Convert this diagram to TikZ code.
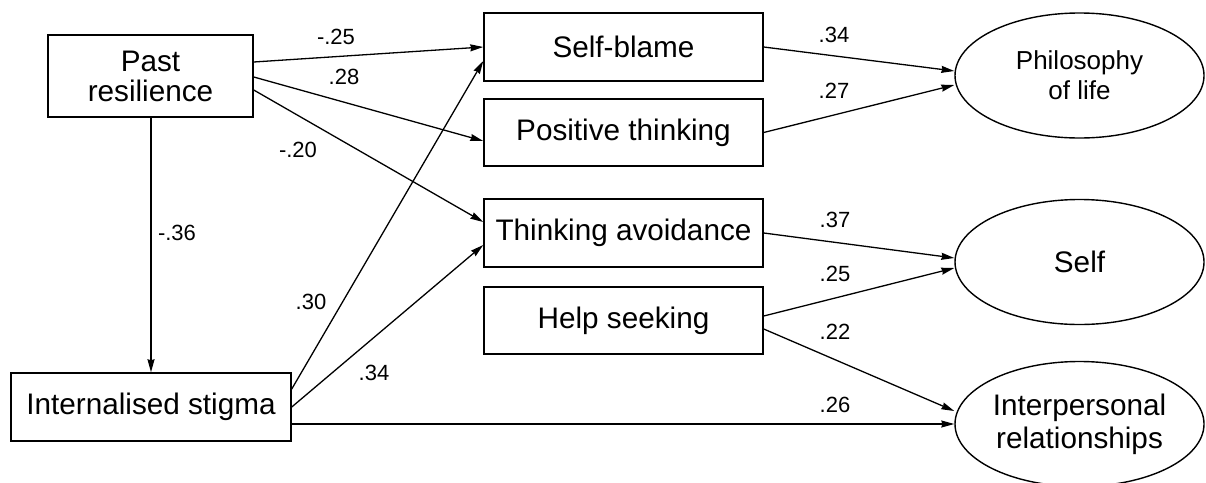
\documentclass[tikz,border=0pt]{standalone}
\usepackage{fontspec}
\setmainfont{Liberation Sans}
\usetikzlibrary{arrows.meta,shapes.geometric}
\begin{document}
\begin{tikzpicture}[x=1pt,y=-1pt,
  box/.style={draw, line width=1.5pt, rectangle, inner sep=0pt, align=center,
    font=\fontsize{29.7}{30}\selectfont},
  latent/.style={draw, line width=1.4pt, ellipse, inner sep=0pt,
    minimum width=249pt, minimum height=125pt, align=center,
    font=\fontsize{29.7}{33}\selectfont},
  path/.style={line width=1.3pt, -{Stealth[length=13pt,width=7pt,inset=1pt]}},
  coef/.style={inner sep=0pt, font=\fontsize{22}{22}\selectfont}
]
\useasboundingbox (0,0) rectangle (1206,482);

% predictors
\node[box, minimum width=205pt, minimum height=82pt] (past) at (150.5,76) {Past\\resilience};
\node[box, minimum width=280pt, minimum height=68pt] (stigma) at (151,407) {Internalised stigma};

% coping strategies
\node[box, minimum width=279pt, minimum height=68pt] (blame) at (623.5,47) {Self-blame};
\node[box, minimum width=279pt, minimum height=67pt] (positive) at (623.5,132.5) {Positive thinking};
\node[box, minimum width=279pt, minimum height=68pt] (avoid) at (623.5,233) {Thinking avoidance};
\node[box, minimum width=279pt, minimum height=67pt] (help) at (623.5,320.5) {Help seeking};

% outcome factors
\node[latent, font=\fontsize{26}{30}\selectfont] (philo) at (1079.5,75.5) {Philosophy\\of life};
\node[latent] (self) at (1079.5,262) {Self};
\node[latent] (inter) at (1079.5,424) {Interpersonal\\relationships};

% paths from past resilience
\draw[path] ([yshift=14pt]past.east) -- (blame.west);
\draw[path] ([yshift=-1pt]past.east) -- ([yshift=-8.5pt]positive.west);
\draw[path] ([yshift=-14pt]past.east) -- ([yshift=11pt]avoid.west);
\draw[path] ([xshift=0.5pt]past.south) -- ([xshift=0pt]stigma.north);

% paths from internalised stigma
\draw[path] ([yshift=18pt]stigma.east) -- ([yshift=-14pt]blame.west);
\draw[path] (stigma.east) -- ([yshift=-12pt]avoid.west);
\draw[path] ([yshift=-17pt]stigma.east) -- (inter.west);

% paths to the outcome factors
\draw[path] (blame.east) -- ([yshift=4.5pt]philo.west);
\draw[path] (positive.east) -- ([yshift=-9.5pt]philo.west);
\draw[path] (avoid.east) -- ([yshift=4pt]self.west);
\draw[path] ([yshift=4.5pt]help.east) -- ([yshift=-6pt]self.west);
\draw[path] ([yshift=-8.5pt]help.east) -- ([yshift=13pt]inter.west);

% path coefficients
\node[coef] (c1) at (336,37) {-.25};
\node[coef] (c2) at (344,77) {.28};
\node[coef] (c3) at (298,150) {-.20};
\node[coef] (c4) at (177,233) {-.36};
\node[coef] (c5) at (311,302) {.30};
\node[coef] (c6) at (374,373) {.34};
\node[coef] (c7) at (834,35) {.34};
\node[coef] (c8) at (834,91) {.27};
\node[coef] (c9) at (835,220) {.37};
\node[coef] (c10) at (835,274) {.25};
\node[coef] (c11) at (835,332) {.22};
\node[coef] (c12) at (835,405) {.26};
\end{tikzpicture}
\end{document}
